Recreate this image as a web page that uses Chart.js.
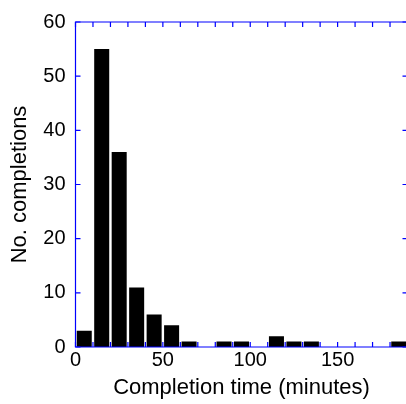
<!DOCTYPE html>
<html>
<head>
<meta charset="utf-8">
<script src="https://cdn.jsdelivr.net/npm/chart.js@4/dist/chart.umd.min.js"></script>
<style>
  html, body { margin: 0; padding: 0; background: #fff; overflow: hidden; }
  #wrap { width: 408px; height: 404px; }
</style>
</head>
<body>
<div id="wrap"><canvas id="histChart" width="408" height="404"></canvas></div>
<script>
// ── Data ──
const binCenters = [5, 15, 25, 35, 45, 55, 65, 75, 85, 95, 105, 115, 125, 135, 145, 155, 165, 175, 185];
const counts     = [3, 55, 36, 11, 6, 4, 1, 0, 1, 1, 0, 2, 1, 1, 0, 0, 0, 0, 1];
const xTickLabels = [0, 50, 100, 150];
const yTickLabels = [0, 10, 20, 30, 40, 50, 60];

(function () {
  'use strict';

  const FONT = "'Liberation Sans', Arial, Helvetica, sans-serif";
  const AXIS_BLUE = '#0000ff';
  const TICK_LEN = 5;

  // ── Box frame + inward ticks (Matlab style) ──
  const boxAxes = {
    id: 'boxAxes',
    afterDatasetsDraw(chart) {
      const { ctx, chartArea: { left, top, right, bottom }, scales: { x, y } } = chart;
      ctx.save();
      ctx.strokeStyle = AXIS_BLUE;
      ctx.lineWidth = 1.2;
      ctx.beginPath();
      ctx.rect(left, top, right - left, bottom - top);
      ctx.stroke();

      ctx.beginPath();
      for (let v = x.min; v <= x.max; v += 10) {
        const px = x.getPixelForValue(v);
        ctx.moveTo(px, bottom); ctx.lineTo(px, bottom - TICK_LEN);
        ctx.moveTo(px, top); ctx.lineTo(px, top + TICK_LEN);
      }
      yTickLabels.forEach(v => {
        const py = y.getPixelForValue(v);
        ctx.moveTo(left, py); ctx.lineTo(left + TICK_LEN, py);
        ctx.moveTo(right, py); ctx.lineTo(right - TICK_LEN, py);
      });
      ctx.stroke();
      ctx.restore();
    }
  };

  function initHistogram() {
    const canvas = document.getElementById('histChart');

    new Chart(canvas, {
      type: 'bar',
      data: {
        datasets: [{
          data: binCenters.map((c, i) => ({ x: c, y: counts[i] })),
          backgroundColor: '#000000',
          borderWidth: 0,
          barPercentage: 0.86,
          categoryPercentage: 1,
        }]
      },
      options: {
        responsive: false,
        animation: false,
        layout: { padding: { top: 14, right: 0.5, left: 0, bottom: 0 } },
        plugins: {
          legend: { display: false },
          tooltip: { enabled: false }
        },
        scales: {
          x: {
            type: 'linear',
            offset: false,
            min: 0,
            max: 190,
            grid: { display: false, drawTicks: false },
            border: { display: false },
            afterBuildTicks: s => { s.ticks = xTickLabels.map(v => ({ value: v })); },
            afterFit: s => { s.height = 57; },
            ticks: {
              autoSkip: false,
              maxRotation: 0,
              padding: 1,
              color: '#000',
              font: { family: FONT, size: 20 }
            },
            title: {
              display: true,
              text: 'Completion time (minutes)',
              color: '#000',
              font: { family: FONT, size: 22 },
              padding: { top: 0, bottom: 3 }
            }
          },
          y: {
            min: 0,
            max: 60,
            grid: { display: false, drawTicks: false },
            border: { display: false },
            afterBuildTicks: s => { s.ticks = yTickLabels.map(v => ({ value: v })); },
            afterFit: s => { s.width = 75.5; },
            ticks: {
              padding: 10,
              color: '#000',
              font: { family: FONT, size: 20 }
            },
            title: {
              display: true,
              text: 'No. completions',
              color: '#000',
              font: { family: FONT, size: 22 },
              padding: { top: 7, bottom: 0 }
            }
          }
        }
      },
      plugins: [boxAxes]
    });
  }

  initHistogram();
})();
</script>
</body>
</html>
